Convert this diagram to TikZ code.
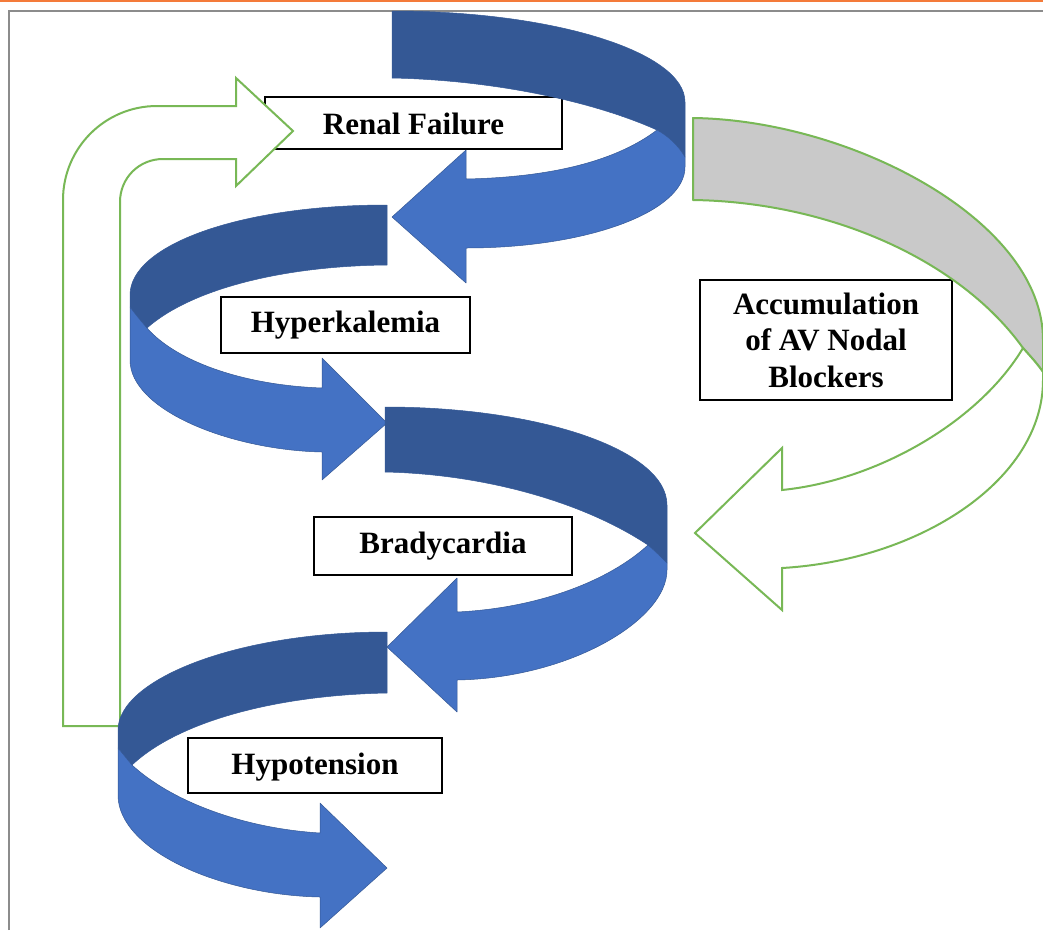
\documentclass[tikz,border=0pt]{standalone}
\usepackage{fontspec}
\setmainfont{Liberation Serif}
\definecolor{bluelight}{HTML}{4472C4}
\definecolor{bluedark}{HTML}{345895}
\definecolor{grn}{HTML}{78B856}
\definecolor{grayfill}{HTML}{C9C9C9}
\definecolor{framegray}{HTML}{8C8C8C}
\definecolor{orangeline}{HTML}{F47B3A}
\begin{document}
\begin{tikzpicture}[x=1pt,y=-1pt,
  lbox/.style={draw=black, line width=1.3pt, fill=white, inner sep=0pt,
    font=\fontsize{31}{36.5}\selectfont\bfseries},
  oneline/.style={text height=21pt, text depth=7pt},
  darkpart/.style={fill=bluedark, draw=bluedark, line width=0.5pt, line join=round},
  lightpart/.style={fill=bluelight, draw=bluedark, line width=0.5pt, line join=round},
  greenarrow/.style={draw=grn, line width=2pt, fill=white, line join=miter},
]
\useasboundingbox (0,0) rectangle (1043,930);
\fill[white] (0,0) rectangle (1043,930);
% frame
\draw[orangeline, line width=2.5pt] (0,1.2) -- (1043,1.2);
\draw[framegray, line width=2pt] (9,930) -- (9,11) -- (1043,11);

% label boxes
\node[lbox, oneline, text height=25pt, text depth=3pt, minimum width=297pt, minimum height=52pt] (renal) at (413.5,123) {Renal Failure};
\node[lbox, oneline, minimum width=249pt, minimum height=56pt] (hyperk) at (345.5,325) {Hyperkalemia};
\node[lbox, oneline, minimum width=258pt, minimum height=58pt] (brady) at (443,546) {Bradycardia};
\node[lbox, oneline, text height=21pt, text depth=4pt, minimum width=254pt, minimum height=55pt] (hypot) at (315,765.5) {Hypotension};
\node[lbox, align=center, minimum width=252pt, minimum height=120pt] (accum) at (826,340)
  {Accumulation\\of AV Nodal\\Blockers};

% left green bent arrow (Hypotension -> Renal Failure)
\draw[greenarrow] (63,726) -- (63,200) .. controls (63,148) and (105,106) .. (157,106)
  -- (236,106) -- (236,78) -- (293,131) -- (236,186) -- (236,159) -- (163,159)
  .. controls (139,159) and (120,178) .. (120,202) -- (120,726) -- cycle;

% right green curved arrow (Accumulation of AV nodal blockers -> Bradycardia)
\draw[draw=grn, line width=2pt, fill=grayfill, line join=round]
  (693,118) .. controls (850,120) and (1043,220) .. (1043,340) -- (1043,372)
  .. controls (1036,362) and (1030,356) .. (1023,348)
  .. controls (960,260) and (830,202) .. (693,200) -- cycle;
\draw[draw=grn, line width=2pt, fill=white, line join=miter]
  (1023,348) .. controls (1030,356) and (1036,362) .. (1043,372) -- (1043,380)
  .. controls (1043,480) and (920,560) .. (782,568)
  -- (782,610) -- (695,533) -- (782,448) -- (782,490)
  .. controls (880,480) and (980,420) .. (1023,348) -- cycle;

% blue arrow 1 (Renal Failure -> Hyperkalemia)
\fill[darkpart] (392,11) .. controls (554,11) and (685,52) .. (685,102) -- (685,157)
  .. controls (678,145) and (668,136) .. (657,130)
  .. controls (590,100) and (490,80) .. (392,78) -- cycle;
\fill[lightpart] (657,130) .. controls (668,136) and (678,145) .. (685,157) -- (685,167)
  .. controls (685,212) and (587,248) .. (466,248)
  -- (466,283) -- (392,217) -- (466,150) -- (466,179)
  .. controls (560,177) and (620,158) .. (657,130) -- cycle;

% blue arrow 2 (Hyperkalemia -> Bradycardia)
\fill[darkpart] (387,205) .. controls (240,205) and (130,245) .. (130,295) -- (130,307)
  .. controls (136,315) and (141,321) .. (147,328)
  .. controls (190,290) and (280,266) .. (387,265) -- cycle;
\fill[lightpart] (130,307) -- (130,360) .. controls (130,410) and (230,450) .. (322,452)
  -- (322,480) -- (387,423) -- (322,358) -- (322,388)
  .. controls (240,385) and (175,360) .. (147,328)
  .. controls (141,321) and (136,315) .. (130,307) -- cycle;

% blue arrow 3 (Bradycardia -> Hypotension)
\fill[darkpart] (385,407) .. controls (540,407) and (667,450) .. (667,505) -- (667,563)
  .. controls (661,557) and (655,551) .. (648,545)
  .. controls (580,500) and (480,474) .. (385,472) -- cycle;
\fill[lightpart] (648,545) .. controls (655,551) and (661,557) .. (667,563) -- (667,570)
  .. controls (667,620) and (570,678) .. (457,680)
  -- (457,712) -- (387,647) -- (457,578) -- (457,612)
  .. controls (540,608) and (610,580) .. (648,545) -- cycle;

% blue arrow 4 (Hypotension -> ...)
\fill[darkpart] (387,632) .. controls (235,632) and (118,680) .. (118,730) -- (118,748)
  .. controls (123,754) and (127,759) .. (132,765)
  .. controls (180,720) and (280,695) .. (387,693) -- cycle;
\fill[lightpart] (118,748) -- (118,795) .. controls (118,850) and (220,895) .. (320,897)
  -- (320,928) -- (387,868) -- (320,803) -- (320,833)
  .. controls (240,828) and (170,800) .. (132,765)
  .. controls (127,759) and (123,754) .. (118,748) -- cycle;
\end{tikzpicture}
\end{document}
